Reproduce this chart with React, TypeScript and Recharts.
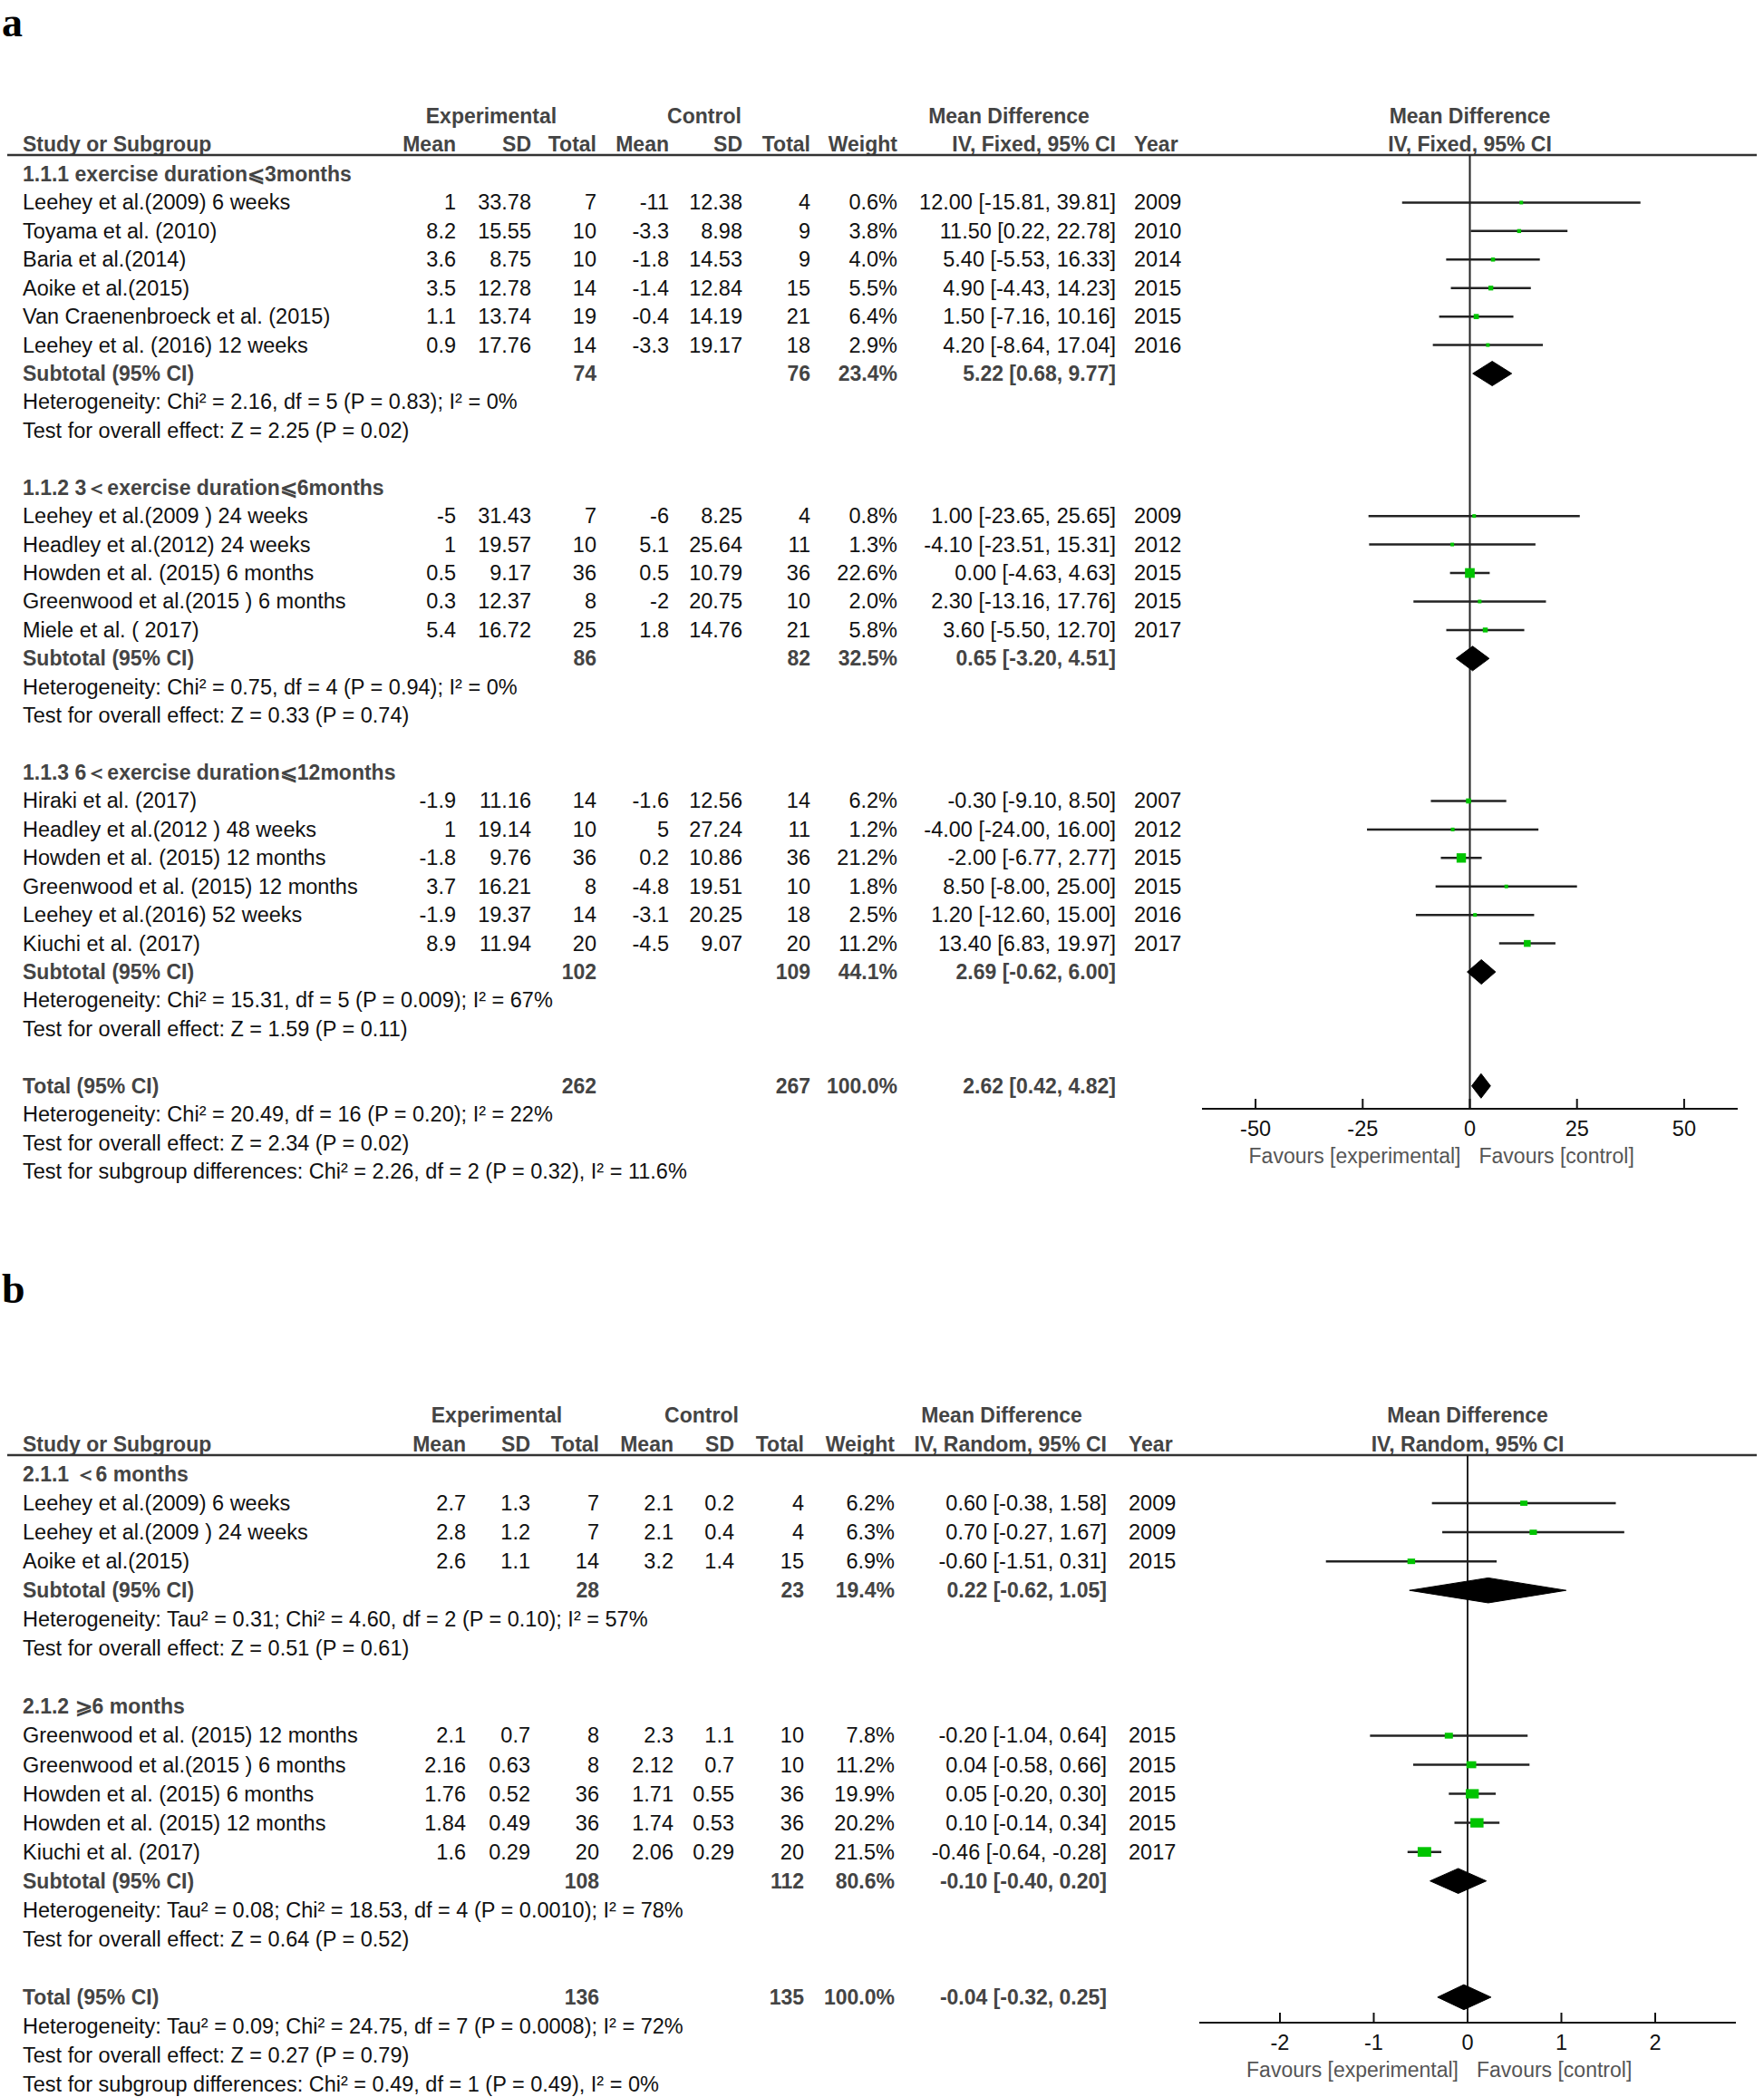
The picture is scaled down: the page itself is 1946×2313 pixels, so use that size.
import React from 'react'
import { ScatterChart, Scatter, XAxis, YAxis, ErrorBar, ReferenceLine } from 'recharts'

const FONT = "'Liberation Sans', Arial, sans-serif"
const GREEN = '#00c400'
const INK = '#111'
const GREY = '#444'

// ---------- panel a : data ----------
const groupTitlesA = [
  '1.1.1 exercise duration⩽3months',
  '1.1.2 3＜exercise duration⩽6months',
  '1.1.3 6＜exercise duration⩽12months',
]

const studiesA = [
  { g: 0, name: 'Leehey et al.(2009) 6 weeks', eMean: '1', eSD: '33.78', eN: 7, cMean: '-11', cSD: '12.38', cN: 4, weight: 0.6, md: 12.0, lo: -15.81, hi: 39.81, year: 2009 },
  { g: 0, name: 'Toyama et al. (2010)', eMean: '8.2', eSD: '15.55', eN: 10, cMean: '-3.3', cSD: '8.98', cN: 9, weight: 3.8, md: 11.5, lo: 0.22, hi: 22.78, year: 2010 },
  { g: 0, name: 'Baria et al.(2014)', eMean: '3.6', eSD: '8.75', eN: 10, cMean: '-1.8', cSD: '14.53', cN: 9, weight: 4.0, md: 5.4, lo: -5.53, hi: 16.33, year: 2014 },
  { g: 0, name: 'Aoike et al.(2015)', eMean: '3.5', eSD: '12.78', eN: 14, cMean: '-1.4', cSD: '12.84', cN: 15, weight: 5.5, md: 4.9, lo: -4.43, hi: 14.23, year: 2015 },
  { g: 0, name: 'Van Craenenbroeck et al. (2015)', eMean: '1.1', eSD: '13.74', eN: 19, cMean: '-0.4', cSD: '14.19', cN: 21, weight: 6.4, md: 1.5, lo: -7.16, hi: 10.16, year: 2015 },
  { g: 0, name: 'Leehey et al. (2016) 12 weeks', eMean: '0.9', eSD: '17.76', eN: 14, cMean: '-3.3', cSD: '19.17', cN: 18, weight: 2.9, md: 4.2, lo: -8.64, hi: 17.04, year: 2016 },
  { g: 1, name: 'Leehey et al.(2009 ) 24 weeks', eMean: '-5', eSD: '31.43', eN: 7, cMean: '-6', cSD: '8.25', cN: 4, weight: 0.8, md: 1.0, lo: -23.65, hi: 25.65, year: 2009 },
  { g: 1, name: 'Headley et al.(2012)  24 weeks', eMean: '1', eSD: '19.57', eN: 10, cMean: '5.1', cSD: '25.64', cN: 11, weight: 1.3, md: -4.1, lo: -23.51, hi: 15.31, year: 2012 },
  { g: 1, name: 'Howden et al. (2015)  6 months', eMean: '0.5', eSD: '9.17', eN: 36, cMean: '0.5', cSD: '10.79', cN: 36, weight: 22.6, md: 0.0, lo: -4.63, hi: 4.63, year: 2015 },
  { g: 1, name: 'Greenwood et al.(2015 ) 6 months', eMean: '0.3', eSD: '12.37', eN: 8, cMean: '-2', cSD: '20.75', cN: 10, weight: 2.0, md: 2.3, lo: -13.16, hi: 17.76, year: 2015 },
  { g: 1, name: 'Miele et al. ( 2017)', eMean: '5.4', eSD: '16.72', eN: 25, cMean: '1.8', cSD: '14.76', cN: 21, weight: 5.8, md: 3.6, lo: -5.5, hi: 12.7, year: 2017 },
  { g: 2, name: 'Hiraki et al. (2017)', eMean: '-1.9', eSD: '11.16', eN: 14, cMean: '-1.6', cSD: '12.56', cN: 14, weight: 6.2, md: -0.3, lo: -9.1, hi: 8.5, year: 2007 },
  { g: 2, name: 'Headley et al.(2012 ) 48 weeks', eMean: '1', eSD: '19.14', eN: 10, cMean: '5', cSD: '27.24', cN: 11, weight: 1.2, md: -4.0, lo: -24.0, hi: 16.0, year: 2012 },
  { g: 2, name: 'Howden et al. (2015) 12 months', eMean: '-1.8', eSD: '9.76', eN: 36, cMean: '0.2', cSD: '10.86', cN: 36, weight: 21.2, md: -2.0, lo: -6.77, hi: 2.77, year: 2015 },
  { g: 2, name: 'Greenwood et al. (2015) 12 months', eMean: '3.7', eSD: '16.21', eN: 8, cMean: '-4.8', cSD: '19.51', cN: 10, weight: 1.8, md: 8.5, lo: -8.0, hi: 25.0, year: 2015 },
  { g: 2, name: 'Leehey et al.(2016) 52 weeks', eMean: '-1.9', eSD: '19.37', eN: 14, cMean: '-3.1', cSD: '20.25', cN: 18, weight: 2.5, md: 1.2, lo: -12.6, hi: 15.0, year: 2016 },
  { g: 2, name: 'Kiuchi et al. (2017)', eMean: '8.9', eSD: '11.94', eN: 20, cMean: '-4.5', cSD: '9.07', cN: 20, weight: 11.2, md: 13.4, lo: 6.83, hi: 19.97, year: 2017 },
]

const subtotalsA = [
  { eN: 74, cN: 76, weight: 23.4, md: 5.22, lo: 0.68, hi: 9.77 },
  { eN: 86, cN: 82, weight: 32.5, md: 0.65, lo: -3.2, hi: 4.51 },
  { eN: 102, cN: 109, weight: 44.1, md: 2.69, lo: -0.62, hi: 6.0 },
]
const hetA = [
  'Heterogeneity: Chi² = 2.16, df = 5 (P = 0.83); I² = 0%',
  'Heterogeneity: Chi² = 0.75, df = 4 (P = 0.94); I² = 0%',
  'Heterogeneity: Chi² = 15.31, df = 5 (P = 0.009); I² = 67%',
]
const effectA = [
  'Test for overall effect: Z = 2.25 (P = 0.02)',
  'Test for overall effect: Z = 0.33 (P = 0.74)',
  'Test for overall effect: Z = 1.59 (P = 0.11)',
]
const totalA = { eN: 262, cN: 267, weight: 100, md: 2.62, lo: 0.42, hi: 4.82 }
const totalNotesA = [
  'Heterogeneity: Chi² = 20.49, df = 16 (P = 0.20); I² = 22%',
  'Test for overall effect: Z = 2.34 (P = 0.02)',
  'Test for subgroup differences: Chi² = 2.26, df = 2 (P = 0.32), I² = 11.6%',
]
const ticksA = [-50, -25, 0, 25, 50]

// ---------- panel b : data ----------
const groupTitlesB = ['2.1.1 ＜6 months', '2.1.2 ⩾6 months']

const studiesB = [
  { g: 0, name: 'Leehey et al.(2009) 6 weeks', eMean: '2.7', eSD: '1.3', eN: 7, cMean: '2.1', cSD: '0.2', cN: 4, weight: 6.2, md: 0.6, lo: -0.38, hi: 1.58, year: 2009 },
  { g: 0, name: 'Leehey et al.(2009 ) 24 weeks', eMean: '2.8', eSD: '1.2', eN: 7, cMean: '2.1', cSD: '0.4', cN: 4, weight: 6.3, md: 0.7, lo: -0.27, hi: 1.67, year: 2009 },
  { g: 0, name: 'Aoike et al.(2015)', eMean: '2.6', eSD: '1.1', eN: 14, cMean: '3.2', cSD: '1.4', cN: 15, weight: 6.9, md: -0.6, lo: -1.51, hi: 0.31, year: 2015 },
  { g: 1, name: 'Greenwood et al. (2015) 12 months', eMean: '2.1', eSD: '0.7', eN: 8, cMean: '2.3', cSD: '1.1', cN: 10, weight: 7.8, md: -0.2, lo: -1.04, hi: 0.64, year: 2015 },
  { g: 1, name: 'Greenwood et al.(2015 ) 6 months', eMean: '2.16', eSD: '0.63', eN: 8, cMean: '2.12', cSD: '0.7', cN: 10, weight: 11.2, md: 0.04, lo: -0.58, hi: 0.66, year: 2015 },
  { g: 1, name: 'Howden et al. (2015)  6 months', eMean: '1.76', eSD: '0.52', eN: 36, cMean: '1.71', cSD: '0.55', cN: 36, weight: 19.9, md: 0.05, lo: -0.2, hi: 0.3, year: 2015 },
  { g: 1, name: 'Howden et al. (2015) 12 months', eMean: '1.84', eSD: '0.49', eN: 36, cMean: '1.74', cSD: '0.53', cN: 36, weight: 20.2, md: 0.1, lo: -0.14, hi: 0.34, year: 2015 },
  { g: 1, name: 'Kiuchi et al. (2017)', eMean: '1.6', eSD: '0.29', eN: 20, cMean: '2.06', cSD: '0.29', cN: 20, weight: 21.5, md: -0.46, lo: -0.64, hi: -0.28, year: 2017 },
]

const subtotalsB = [
  { eN: 28, cN: 23, weight: 19.4, md: 0.22, lo: -0.62, hi: 1.05 },
  { eN: 108, cN: 112, weight: 80.6, md: -0.1, lo: -0.4, hi: 0.2 },
]
const hetB = [
  'Heterogeneity: Tau² = 0.31; Chi² = 4.60, df = 2 (P = 0.10); I² = 57%',
  'Heterogeneity: Tau² = 0.08; Chi² = 18.53, df = 4 (P = 0.0010); I² = 78%',
]
const effectB = [
  'Test for overall effect: Z = 0.51 (P = 0.61)',
  'Test for overall effect: Z = 0.64 (P = 0.52)',
]
const totalB = { eN: 136, cN: 135, weight: 100, md: -0.04, lo: -0.32, hi: 0.25 }
const totalNotesB = [
  'Heterogeneity: Tau² = 0.09; Chi² = 24.75, df = 7 (P = 0.0008); I² = 72%',
  'Test for overall effect: Z = 0.27 (P = 0.79)',
  'Test for subgroup differences: Chi² = 0.49, df = 1 (P = 0.49), I² = 0%',
]
const ticksB = [-2, -1, 0, 1, 2]

// ---------- geometry ----------
const geomA = {
  label: 'a', labelY: 40, head1: 128, head2: 159, lineY: 171, y0: 192, dy: 31.43,
  cols: { eMean: 503, eSD: 586, eN: 658, cMean: 738, cSD: 819, cN: 894, weight: 990, ci: 1231, year: 1251 },
  centers: { exp: 542, ctl: 777, md: 1113 },
  plotL: 1326, plotR: 1917, axisY: 1223, domain: [-62.5, 62.5], method: 'IV, Fixed, 95% CI',
  sq: 2.25, aspect: 1, minSq: 4,
}
const geomB = {
  label: 'b', labelY: 1437, head1: 1561, head2: 1593, lineY: 1605, y0: 1626, dy: 32.05,
  cols: { eMean: 514, eSD: 585, eN: 661, cMean: 743, cSD: 810, cN: 887, weight: 987, ci: 1221, year: 1245 },
  centers: { exp: 548, ctl: 774, md: 1105 },
  plotL: 1323, plotR: 1915, axisY: 2231, domain: [-2.86, 2.86], method: 'IV, Random, 95% CI',
  sq: 2.3, aspect: 1.4, minSq: 4,
}

type Row = { kind: string; r: number; text?: string; s?: any }

function buildRows(titles: string[], studies: any[], subs: any[], het: string[], eff: string[], total: any, notes: string[]) {
  const rows: Row[] = []
  let r = 0
  titles.forEach((t, g) => {
    rows.push({ kind: 'title', r: r++, text: t })
    studies.filter(s => s.g === g).forEach(s => rows.push({ kind: 'study', r: r++, s }))
    rows.push({ kind: 'subtotal', r: r++, s: subs[g], text: 'Subtotal (95% CI)' })
    rows.push({ kind: 'note', r: r++, text: het[g] })
    rows.push({ kind: 'note', r: r++, text: eff[g] })
    r++
  })
  rows.push({ kind: 'total', r: r++, s: total, text: 'Total (95% CI)' })
  notes.forEach(t => rows.push({ kind: 'note', r: r++, text: t }))
  return rows
}

const ci = (s: any) => `${s.md.toFixed(2)} [${s.lo.toFixed(2)}, ${s.hi.toFixed(2)}]`

function TableText({ g, rows }: { g: any; rows: Row[] }) {
  const c = g.cols
  const zero = (g.plotL + g.plotR) / 2
  const T = (x: number, y: number, txt: any, anchor = 'end', bold = false, key?: any) => (
    <text key={key} x={x} y={y} textAnchor={anchor as any} fontWeight={bold ? 'bold' : 'normal'} fill={bold ? GREY : INK}
      fontSize={bold ? 23 : 23.5}>{txt}</text>
  )
  const b1 = g.head1 + 8
  const b2 = g.head2 + 8
  return (
    <g fontFamily={FONT}>
      <text x={2} y={g.labelY} fontFamily="'Liberation Serif', 'Times New Roman', serif" fontWeight="bold" fontSize={46} fill="#000">{g.label}</text>
      {T(g.centers.exp, b1, 'Experimental', 'middle', true)}
      {T(g.centers.ctl, b1, 'Control', 'middle', true)}
      {T(g.centers.md, b1, 'Mean Difference', 'middle', true)}
      {T(zero, b1, 'Mean Difference', 'middle', true)}
      {T(25, b2, 'Study or Subgroup', 'start', true)}
      {T(c.eMean, b2, 'Mean', 'end', true)}
      {T(c.eSD, b2, 'SD', 'end', true)}
      {T(c.eN, b2, 'Total', 'end', true)}
      {T(c.cMean, b2, 'Mean', 'end', true)}
      {T(c.cSD, b2, 'SD', 'end', true)}
      {T(c.cN, b2, 'Total', 'end', true)}
      {T(c.weight, b2, 'Weight', 'end', true)}
      {T(c.ci, b2, g.method, 'end', true)}
      {T(c.year, b2, 'Year', 'start', true)}
      {T(zero, b2, g.method, 'middle', true)}
      <line x1={8} x2={1938} y1={g.lineY} y2={g.lineY} stroke="#333" strokeWidth={2.5} />
      {rows.map((row, i) => {
        const y = g.y0 + g.dy * row.r + 8
        if (row.kind === 'title') return <g key={i}>{T(25, y, row.text, 'start', true)}</g>
        if (row.kind === 'note') return <g key={i}>{T(25, y, row.text, 'start')}</g>
        const s = row.s
        if (row.kind === 'study') {
          return (
            <g key={i}>
              {T(25, y, s.name, 'start')}
              {T(c.eMean, y, s.eMean)}
              {T(c.eSD, y, s.eSD)}
              {T(c.eN, y, s.eN)}
              {T(c.cMean, y, s.cMean)}
              {T(c.cSD, y, s.cSD)}
              {T(c.cN, y, s.cN)}
              {T(c.weight, y, `${s.weight.toFixed(1)}%`)}
              {T(c.ci, y, ci(s))}
              {T(c.year, y, s.year, 'start')}
            </g>
          )
        }
        return (
          <g key={i}>
            {T(25, y, row.text, 'start', true)}
            {T(c.eN, y, s.eN, 'end', true)}
            {T(c.cN, y, s.cN, 'end', true)}
            {T(c.weight, y, `${s.weight.toFixed(1)}%`, 'end', true)}
            {T(c.ci, y, ci(s), 'end', true)}
          </g>
        )
      })}
      <text x={zero - 10} y={g.axisY + 60} textAnchor="end" fontSize={23} fill="#555">Favours [experimental]</text>
      <text x={zero + 10} y={g.axisY + 60} textAnchor="start" fontSize={23} fill="#555">Favours [control]</text>
    </g>
  )
}

const renderTick = (p: any) => (
  <g>
    <line x1={p.x} x2={p.x} y1={p.y} y2={p.y - 11} stroke={INK} strokeWidth={2} />
    <text x={p.x} y={p.y + 30} textAnchor="middle" fontFamily={FONT} fontSize={23.5} fill={INK}>{p.payload.value}</text>
  </g>
)

const diamondLine = (p: any) => {
  const pts = p.points || []
  if (!pts.length) return <g />
  const d = pts.map((pt: any, i: number) => `${i ? 'L' : 'M'}${pt.x},${pt.y}`).join(' ') + ' Z'
  return <path d={d} fill="#000" stroke="#000" strokeWidth={1} />
}

function Forest({ g, rows, ticks }: { g: any; rows: Row[]; ticks: number[] }) {
  const pts = rows.filter(r => r.kind === 'study').map(r => ({
    x: r.s.md, y: r.r, err: [r.s.md - r.s.lo, r.s.hi - r.s.md], w: r.s.weight,
  }))
  const diamonds = rows.filter(r => r.kind === 'subtotal' || r.kind === 'total').map(r => [
    { x: r.s.lo, y: r.r },
    { x: r.s.md, y: r.r - 0.43 },
    { x: r.s.hi, y: r.r },
    { x: r.s.md, y: r.r + 0.43 },
  ])
  const yMin = (g.lineY - g.y0) / g.dy
  const yMax = (g.axisY - g.y0) / g.dy
  const square = (p: any) => {
    const h = Math.max(g.minSq, g.sq * Math.sqrt(p.payload.w))
    const w = h * g.aspect
    return <rect x={p.cx - w / 2} y={p.cy - h / 2} width={w} height={h} fill={GREEN} />
  }
  return (
    <div style={{ position: 'absolute', left: g.plotL, top: g.lineY }}>
      <ScatterChart width={g.plotR - g.plotL} height={g.axisY - g.lineY + 50} margin={{ top: 0, right: 0, bottom: 0, left: 0 }}>
        <XAxis type="number" dataKey="x" domain={g.domain} ticks={ticks} interval={0} allowDataOverflow height={50}
          tickSize={0} tickMargin={0} tickLine={false} axisLine={{ stroke: INK, strokeWidth: 2 }} tick={renderTick} />
        <YAxis type="number" dataKey="y" domain={[yMin, yMax]} reversed hide width={0} allowDataOverflow />
        <ReferenceLine x={0} stroke="#222" strokeWidth={2} />
        {diamonds.map((d, i) => (
          <Scatter key={i} data={d} isAnimationActive={false} shape={() => <g />} line={diamondLine} />
        ))}
        <Scatter data={pts} isAnimationActive={false} shape={square}>
          <ErrorBar dataKey="err" direction="x" width={0} stroke="#222" strokeWidth={2.5} />
        </Scatter>
      </ScatterChart>
    </div>
  )
}

export default function App() {
  const rowsA = buildRows(groupTitlesA, studiesA, subtotalsA, hetA, effectA, totalA, totalNotesA)
  const rowsB = buildRows(groupTitlesB, studiesB, subtotalsB, hetB, effectB, totalB, totalNotesB)
  return (
    <div style={{ position: 'relative', width: 1946, height: 2313, background: '#fff', overflow: 'hidden' }}>
      <style>{'body{margin:0}'}</style>
      <svg width={1946} height={2313} style={{ position: 'absolute', left: 0, top: 0 }}>
        <TableText g={geomA} rows={rowsA} />
        <TableText g={geomB} rows={rowsB} />
      </svg>
      <Forest g={geomA} rows={rowsA} ticks={ticksA} />
      <Forest g={geomB} rows={rowsB} ticks={ticksB} />
    </div>
  )
}
